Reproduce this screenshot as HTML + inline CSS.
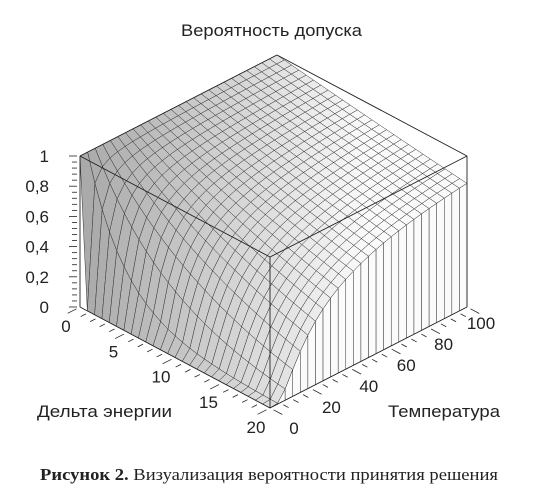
<!DOCTYPE html>
<html><head><meta charset="utf-8"><style>
html,body{margin:0;padding:0;background:#fff;}
svg{display:block;}
text{font-family:"Liberation Sans",sans-serif;fill:#222;}
</style></head><body>
<svg id="chart" width="540" height="504" viewBox="0 0 540 504" xmlns="http://www.w3.org/2000/svg">
<text x="181" y="36" font-size="17" textLength="181" lengthAdjust="spacingAndGlyphs">Вероятность допуска</text>
<g id="surface"></g>
<g id="axes"></g>
<text x="37" y="417" font-size="17" textLength="135" lengthAdjust="spacingAndGlyphs">Дельта энергии</text>
<text x="388" y="417" font-size="17" textLength="112" lengthAdjust="spacingAndGlyphs">Температура</text>
<text x="40" y="480" font-size="17" textLength="458" lengthAdjust="spacingAndGlyphs" style="font-family:'Liberation Serif',serif"><tspan font-weight="bold">Рисунок 2.</tspan> Визуализация вероятности принятия решения</text>
</svg>
<script>
const zTickLabels = ["0","0,2","0,4","0,6","0,8","1"];
const zTickValues = [0,0.2,0.4,0.6,0.8,1];
const dETickLabels = ["0","5","10","15","20"];
const dETickValues = [0,5,10,15,20];
const tTickLabels = ["0","20","40","60","80","100"];
const tTickValues = [0,20,40,60,80,100];
const dEMax = 20, tMax = 100, N = 26;
const dEGrid = []; for (let i=0;i<=N;i++) dEGrid.push(dEMax*i/N);
const tGrid = []; for (let j=0;j<=N;j++) tGrid.push(tMax*j/N);
function prob(dE,T){ if (dE===0) return 1; if (T===0) return 0; return Math.exp(-dE/T); }

const NS="http://www.w3.org/2000/svg";
function P(dE,T,z){ return [80 + dE*9.5 + T*1.97, 307 + dE*5.05 - T*1.01 - z*151]; }
function pts(a){ return a.map(p=>p[0].toFixed(2)+","+p[1].toFixed(2)).join(" "); }
const surf=document.getElementById('surface');
const axes=document.getElementById('axes');

const cells=[];
for (let i=0;i<N;i++) for (let j=0;j<N;j++){
  const a=[dEGrid[i],tGrid[j]],b=[dEGrid[i+1],tGrid[j]],c=[dEGrid[i+1],tGrid[j+1]],d=[dEGrid[i],tGrid[j+1]];
  const near=(i+0.5)/N + (1-(j+0.5)/N);
  cells.push({q:[a,b,c,d],near});
}
cells.sort((x,y)=>x.near-y.near);
cells.forEach(c=>{
  const pp=c.q.map(v=>P(v[0],v[1],prob(v[0],v[1])));
  const cx=(pp[0][0]+pp[1][0]+pp[2][0]+pp[3][0])/4;
  let g=Math.round(168+95*(cx-80)/330); if(g>250)g=250;
  const poly=document.createElementNS(NS,'polygon');
  
  
  poly.setAttribute('points',pts(pp));
  poly.setAttribute('fill','rgb('+g+','+g+','+g+')');
  poly.setAttribute('stroke','#333');
  poly.setAttribute('stroke-width','0.5');
  surf.appendChild(poly);
});
for (let j=0;j<N;j++){
  const t0=tGrid[j],t1=tGrid[j+1];
  const pp=[P(dEMax,t0,0),P(dEMax,t1,0),P(dEMax,t1,prob(dEMax,t1)),P(dEMax,t0,prob(dEMax,t0))];
  const poly=document.createElementNS(NS,'polygon');
  
  
  poly.setAttribute('points',pts(pp));
  poly.setAttribute('fill','#fbfbfb');
  poly.setAttribute('stroke','#333');
  poly.setAttribute('stroke-width','0.5');
  surf.appendChild(poly);
}
function line(a,b,w,name){
  const l=document.createElementNS(NS,'line');
  
  
  l.setAttribute('x1',a[0]);l.setAttribute('y1',a[1]);l.setAttribute('x2',b[0]);l.setAttribute('y2',b[1]);
  l.setAttribute('stroke','#222');l.setAttribute('stroke-width',w);
  axes.appendChild(l);
}
const E=[[[0,0,0],[0,0,1]],[[dEMax,0,0],[dEMax,0,1]],[[dEMax,tMax,0],[dEMax,tMax,1]],
 [[0,0,1],[dEMax,0,1]],[[dEMax,0,1],[dEMax,tMax,1]],[[0,0,1],[0,tMax,1]],[[0,tMax,1],[dEMax,tMax,1]],
 [[0,0,0],[dEMax,0,0]],[[dEMax,0,0],[dEMax,tMax,0]]];
E.forEach(e=>line(P(...e[0]),P(...e[1]),0.9,'box-edge'));
for (let k=0;k<=25;k++){
  const z=k/25; const p=P(0,0,z); const major=k%5===0;
  line([76-(major?7:4),p[1]],[77,p[1]],0.8,'z-tick');
}
zTickValues.forEach((v,i)=>{
  const p=P(0,0,v);
  const t=document.createElementNS(NS,'text');
  
  
  t.setAttribute('x',49);t.setAttribute('y',p[1]+6);t.setAttribute('font-size','17');t.setAttribute('text-anchor','end');
  t.textContent=zTickLabels[i]; axes.appendChild(t);
});
for (let k=0;k<=dEMax;k++){
  const p=P(k,0,0); const major=k%5===0; const L=major?10:6;
  line([p[0]-3.5,p[1]+1.8],[p[0]-3.5-L*0.89,p[1]+1.8+L*0.45],0.8,'delta-energy-tick');
}
dETickValues.forEach((v,i)=>{
  const p=P(v,0,0);
  const t=document.createElementNS(NS,'text');
  
  
  t.setAttribute('x',p[0]-14);t.setAttribute('y',p[1]+25);t.setAttribute('font-size','17');t.setAttribute('text-anchor','middle');
  t.textContent=dETickLabels[i]; axes.appendChild(t);
});
for (let k=0;k<=tMax;k+=5){
  const p=P(dEMax,k,0); const major=k%20===0; const L=major?10:6;
  line([p[0]+3.5,p[1]+1.8],[p[0]+3.5+L*0.88,p[1]+1.8+L*0.47],0.8,'temperature-tick');
}
tTickValues.forEach((v,i)=>{
  const p=P(dEMax,v,0); const f=v/tMax;
  const t=document.createElementNS(NS,'text');
  
  
  t.setAttribute('x',p[0]+24-10*f);t.setAttribute('y',p[1]+26-4*f);t.setAttribute('font-size','17');t.setAttribute('text-anchor','middle');
  t.textContent=tTickLabels[i]; axes.appendChild(t);
});
</script>
</body></html>
